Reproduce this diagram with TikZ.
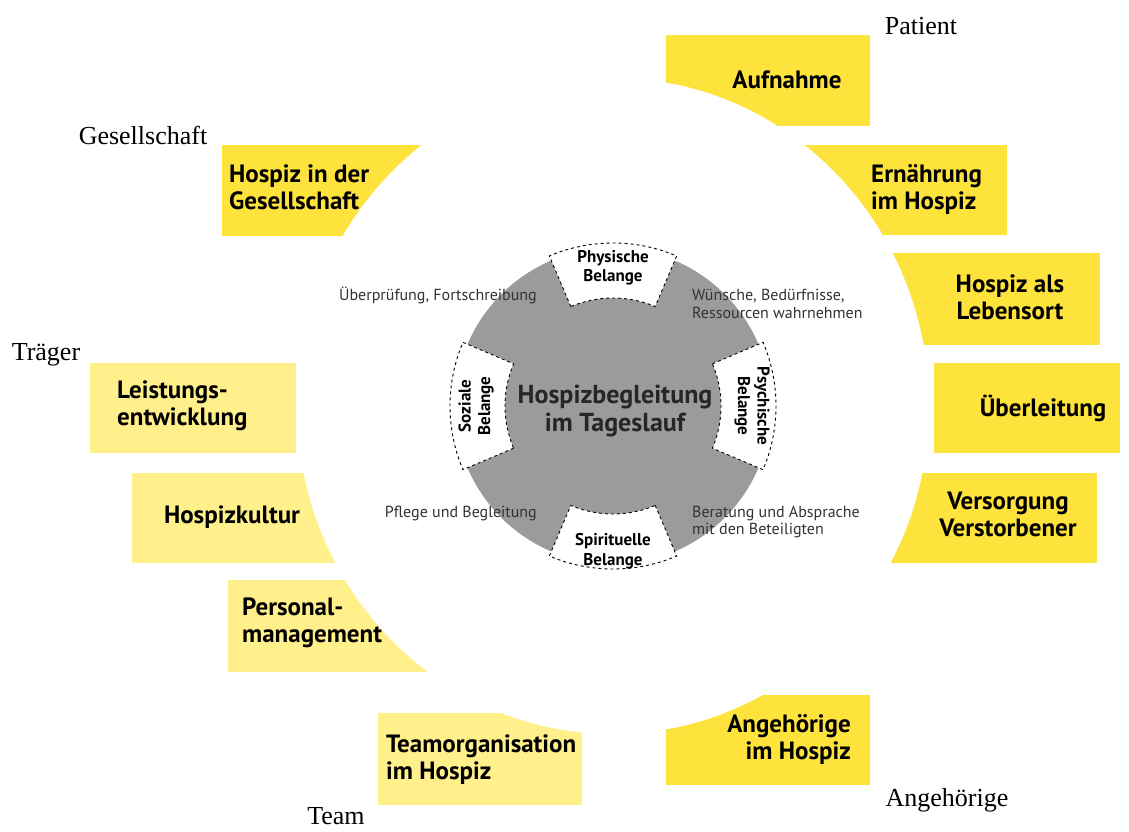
\documentclass[tikz,border=0pt]{standalone}
\usepackage{fontspec}
\setmainfont{Liberation Serif}
\setsansfont{PT Sans}
\usepackage{tikz}

\definecolor{gelb}{HTML}{FFE33D}
\definecolor{hellgelb}{HTML}{FFF08C}
\definecolor{kreisgrau}{HTML}{9B9B9B}

\begin{document}
\begin{tikzpicture}[x=1pt,y=-1pt,
    feld/.style={font=\sffamily\bfseries\fontsize{25}{27}\selectfont,inner sep=0pt},
    gruppe/.style={font=\fontsize{26}{28}\selectfont,inner sep=0pt},
    notiz/.style={font=\sffamily\fontsize{16}{17.5}\selectfont,text=black!80,inner sep=0pt},
    belang/.style={font=\sffamily\bfseries\fontsize{17}{19.5}\selectfont,inner sep=0pt,align=center},
    reiter/.style={draw,fill=white,dashed,line width=0.9pt}]
    \useasboundingbox (0,0) rectangle (1129,832);
    \coordinate (hub) at (613,406);
    \fill[gelb] (666,35) rectangle (870,126);
    \fill[gelb] (803,145) rectangle (1007,235);
    \fill[gelb] (893,253) rectangle (1100,345);
    \fill[gelb] (934,363) rectangle (1120,453);
    \fill[gelb] (890,473) rectangle (1097,563);
    \fill[gelb] (666,695) rectangle (870,785);
    \fill[hellgelb] (378,713) rectangle (582,805);
    \fill[hellgelb] (228,580) rectangle (433,672);
    \fill[hellgelb] (132,473) rectangle (339,563);
    \fill[hellgelb] (90,363) rectangle (296,453);
    \fill[gelb] (222,145) rectangle (426,236);
    \fill[white] (hub) ellipse [x radius=316,y radius=328];
    \fill[kreisgrau] (hub) circle [radius=158];
    \draw[reiter] ([shift={(-113:108)}]hub) -- ([shift={(-113:163)}]hub)
      arc[start angle=-113,end angle=-67,radius=163] -- ([shift={(-67:108)}]hub)
      arc[start angle=-67,end angle=-113,radius=108] -- cycle;
    \draw[reiter] ([shift={(67:108)}]hub) -- ([shift={(67:163)}]hub)
      arc[start angle=67,end angle=113,radius=163] -- ([shift={(113:108)}]hub)
      arc[start angle=113,end angle=67,radius=108] -- cycle;
    \draw[reiter] ([shift={(157:108)}]hub) -- ([shift={(157:163)}]hub)
      arc[start angle=157,end angle=203,radius=163] -- ([shift={(203:108)}]hub)
      arc[start angle=203,end angle=157,radius=108] -- cycle;
    \draw[reiter] ([shift={(-23:108)}]hub) -- ([shift={(-23:163)}]hub)
      arc[start angle=-23,end angle=23,radius=163] -- ([shift={(23:108)}]hub)
      arc[start angle=23,end angle=-23,radius=108] -- cycle;
    \node[belang] (physisch) at ([shift={(-90:138)}]hub) {Physische\\Belange};
    \node[belang] (spirituell) at ([shift={(90:145)}]hub) {Spirituelle\\Belange};
    \node[belang,rotate=90] (sozial) at ([shift={(180:137)}]hub) {Soziale\\Belange};
    \node[belang,rotate=-90] (psychisch) at ([shift={(0:139)}]hub) {Psychische\\Belange};
    \node[font=\sffamily\bfseries\fontsize{26}{28}\selectfont,text=black!85,align=center,inner sep=0pt]
      (titel) at (615,411) {Hospizbegleitung\\im Tageslauf};
    \node[notiz,anchor=east] (pruefung) at (537,295) {Überprüfung, Fortschreibung};
    \node[notiz,anchor=west,align=left] (wuensche) at (692,304) {Wünsche, Bedürfnisse,\\Ressourcen wahrnehmen};
    \node[notiz,anchor=east] (pflege) at (537,513) {Pflege und Begleitung};
    \node[notiz,anchor=west,align=left] (beratung) at (692,522) {Beratung und Absprache\\mit den Beteiligten};
    \node[feld] (aufnahme) at (787,80) {Aufnahme};
    \node[feld,anchor=west,align=left] (ernaehrung) at (871,189) {Ernährung\\im Hospiz};
    \node[feld,align=center] (lebensort) at (1010,297) {Hospiz als\\Lebensort};
    \node[feld] (ueberleitung) at (1043,408) {Überleitung};
    \node[feld,align=center] (versorgung) at (1008,514) {Versorgung\\Verstorbener};
    \node[feld,anchor=east,align=right] (angehoerige) at (851,739) {Angehörige\\im Hospiz};
    \node[feld,anchor=west,align=left] (teamorg) at (386,760) {Teamorganisation\\im Hospiz};
    \node[feld,anchor=west,align=left] (personal) at (242,623) {Personal-\\management};
    \node[feld] (kultur) at (232,517) {Hospizkultur};
    \node[feld,anchor=west,align=left] (leistung) at (117,406) {Leistungs-\\entwicklung};
    \node[feld,anchor=west,align=left] (gesellschaft) at (229,187) {Hospiz in der\\Gesellschaft};
    \node[gruppe] (patient) at (921,26) {Patient};
    \node[gruppe] (gesell) at (143,135) {Gesellschaft};
    \node[gruppe] (traeger) at (46,355) {Träger};
    \node[gruppe] (team) at (336,816) {Team};
    \node[gruppe] (angeh) at (947,800) {Angehörige};
\end{tikzpicture}
\end{document}
